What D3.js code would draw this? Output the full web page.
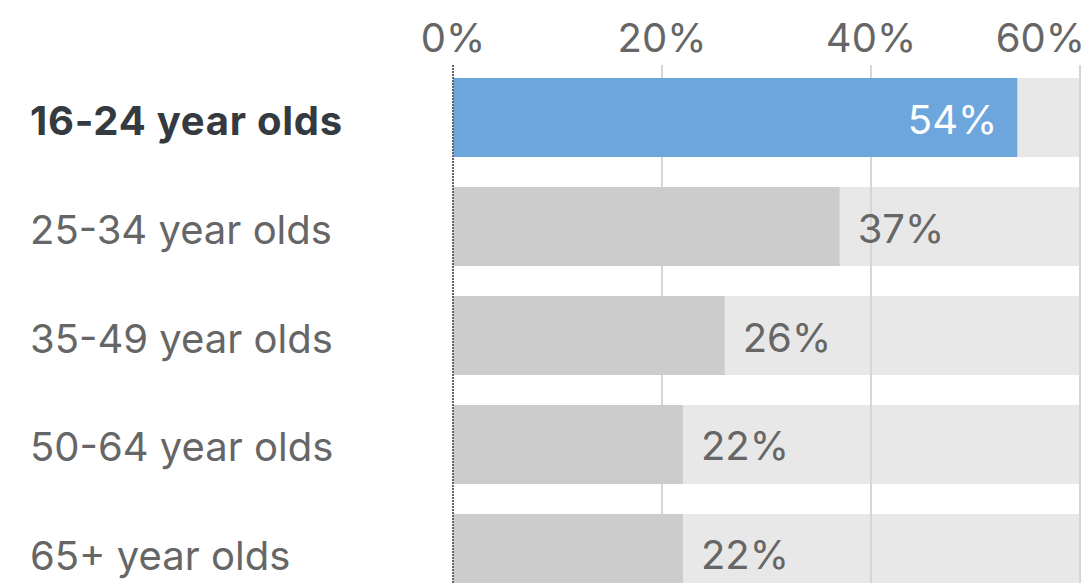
<!DOCTYPE html>
<html><head><meta charset="utf-8">
<script src="https://cdn.jsdelivr.net/npm/d3@7"></script>
<style>body{margin:0;background:#fff;} text{font-family:Inter, "Noto Sans", sans-serif;}</style>
</head><body>
<svg id="chart" width="1087" height="583"></svg>
<script>
const categories = ["16-24 year olds","25-34 year olds","35-49 year olds","50-64 year olds","65+ year olds"];
const values = [54, 37, 26, 22, 22];
const highlight = ["16-24 year olds"];
const tickValues = [0, 20, 40, 60];
const tickLabels = ["0%","20%","40%","60%"];

const W = 1087, H = 583;
const svg = d3.select("#chart");
const x = d3.scaleLinear().domain([0, 60]).range([453, 1080]);
const y = d3.scaleBand().domain(categories).range([78, 593]).paddingInner(0.275).paddingOuter(0).align(0);

svg.append("g").selectAll("rect").data(categories).join("rect")
  .attr("x", x(0)).attr("y", d => y(d)).attr("width", x(60) - x(0)).attr("height", y.bandwidth())
  .attr("fill", "#e8e8e8");

svg.append("g").selectAll("line").data(tickValues.slice(1)).join("line")
  .attr("x1", d => x(d)).attr("x2", d => x(d)).attr("y1", 65).attr("y2", H)
  .attr("stroke", "#d6d6d6").attr("stroke-width", 2);

svg.append("g").selectAll("rect").data(categories).join("rect")
  .attr("x", x(0)).attr("y", d => y(d)).attr("width", (d, i) => x(values[i]) - x(0)).attr("height", y.bandwidth())
  .attr("fill", d => highlight.includes(d) ? "#6ca6dd" : "#cccccc");

svg.append("line").attr("x1", x(0)).attr("x2", x(0)).attr("y1", 65).attr("y2", H)
  .attr("stroke", "#666").attr("stroke-width", 2).attr("stroke-dasharray", "2,1");

svg.append("g").selectAll("text").data(tickValues).join("text")
  .attr("x", (d, i) => i === tickValues.length - 1 ? 1085 : x(d))
  .attr("y", 52)
  .attr("text-anchor", (d, i) => i === tickValues.length - 1 ? "end" : "middle")
  .attr("font-size", 40).attr("fill", "#666")
  .text((d, i) => tickLabels[i]);

svg.append("g").selectAll("text").data(categories).join("text")
  .attr("x", 30).attr("y", d => y(d) + y.bandwidth() / 2 + 17)
  .attr("font-size", 40)
  .attr("font-weight", d => highlight.includes(d) ? 700 : 400)
  .attr("letter-spacing", d => highlight.includes(d) ? 0.75 : 0)
  .attr("fill", d => highlight.includes(d) ? "#343a40" : "#666")
  .text(d => d);

svg.append("g").selectAll("text").data(categories).join("text")
  .attr("x", (d, i) => highlight.includes(d) ? x(values[i]) - 20 : x(values[i]) + 18)
  .attr("y", d => y(d) + y.bandwidth() / 2 + 16)
  .attr("text-anchor", d => highlight.includes(d) ? "end" : "start")
  .attr("font-size", 40)
  .attr("fill", d => highlight.includes(d) ? "#fff" : "#666")
  .text((d, i) => values[i] + "%");
</script>
</body></html>
